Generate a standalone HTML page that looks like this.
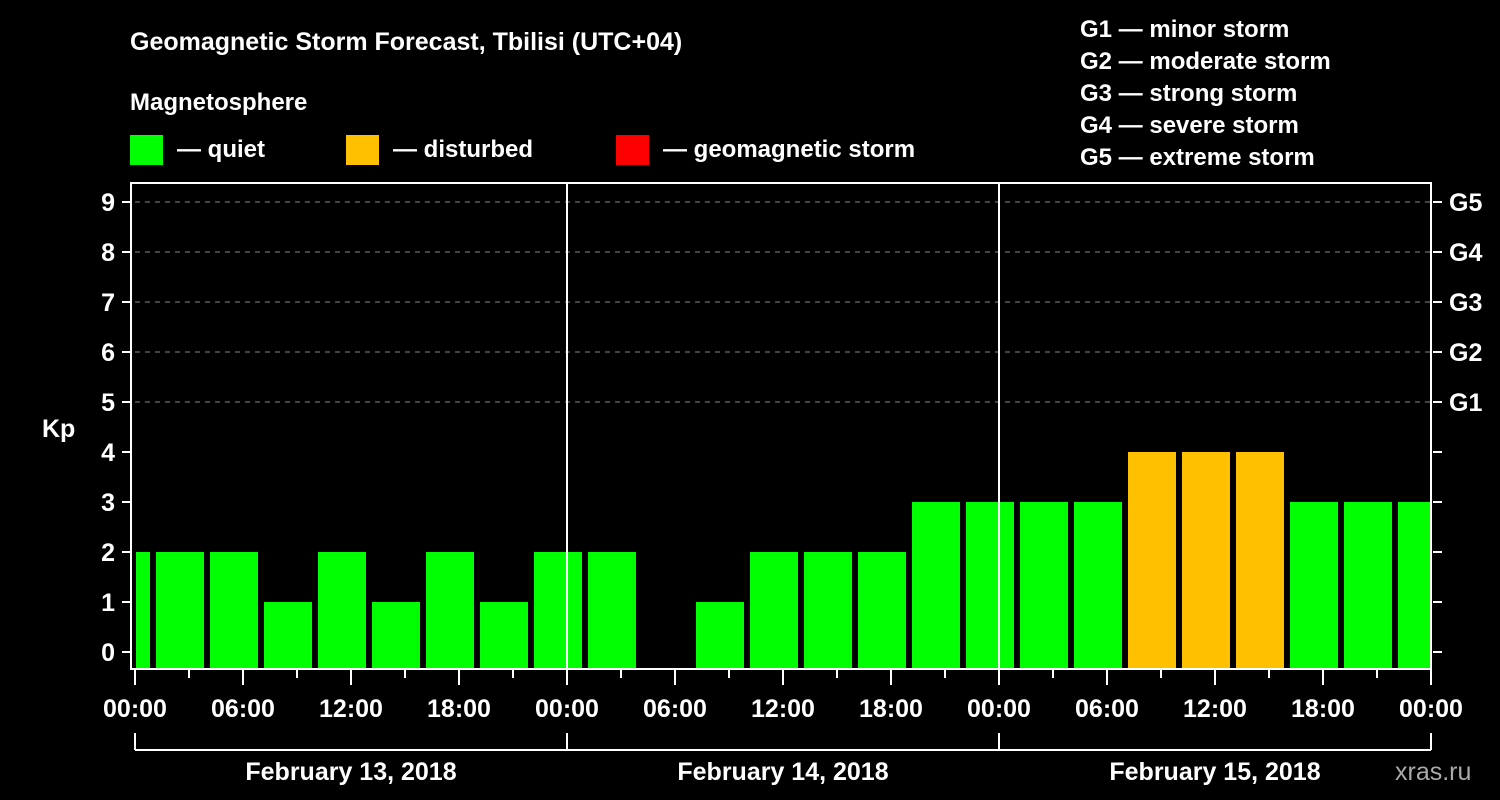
<!DOCTYPE html>
<html><head><meta charset="utf-8"><style>
html,body{margin:0;padding:0;background:#000;}
svg{display:block;font-family:"Liberation Sans",Arial,sans-serif;font-weight:bold;}
</style></head><body>
<svg id="chart" width="1500" height="800" viewBox="0 0 1500 800" xmlns="http://www.w3.org/2000/svg">
<rect width="1500" height="800" fill="#000"/>
<text x="130" y="50" fill="#fff" font-size="25">Geomagnetic Storm Forecast, Tbilisi (UTC+04)</text>
<text x="130" y="110" fill="#fff" font-size="24">Magnetosphere</text>
<g><rect x="130" y="135" width="33" height="30" fill="#00ff00"/><text x="177" y="157" fill="#fff" font-size="24">— quiet</text></g>
<g><rect x="346" y="135" width="33" height="30" fill="#ffc000"/><text x="393" y="157" fill="#fff" font-size="24">— disturbed</text></g>
<g><rect x="616" y="135" width="33" height="30" fill="#ff0000"/><text x="663" y="157" fill="#fff" font-size="24">— geomagnetic storm</text></g>
<g fill="#fff" font-size="24">
<text x="1080" y="37">G1 — minor storm</text>
<text x="1080" y="69">G2 — moderate storm</text>
<text x="1080" y="101">G3 — strong storm</text>
<text x="1080" y="133">G4 — severe storm</text>
<text x="1080" y="165">G5 — extreme storm</text>
</g>
<text x="42" y="437" fill="#fff" font-size="25">Kp</text>
<text x="1395" y="780" fill="#aaa" font-size="25" font-weight="normal">xras.ru</text>
<g id="grid"></g><g id="bars"></g><g id="axes"></g>
</svg>
<script>
const kpValues=[2,2,2,1,2,1,2,1,2,2,0,1,2,2,2,3,3,3,3,4,4,4,3,3,3];
const yTicks=[0,1,2,3,4,5,6,7,8,9];
const gLabels=["G1","G2","G3","G4","G5"];
const gLevels=[5,6,7,8,9];
const timeLabels=["00:00","06:00","12:00","18:00"];
const dayLabels=["February 13, 2018","February 14, 2018","February 15, 2018"];
const NS="http://www.w3.org/2000/svg";
const L=135,R=1431,T=183,B=669;
const xS=h=>L+h*18;
const yS=v=>652-50*v;
function mk(tag,attrs,parent,txt){const e=document.createElementNS(NS,tag);for(const k in attrs)e.setAttribute(k,attrs[k]);if(txt!==undefined)e.textContent=txt;parent.appendChild(e);return e;}
const grid=document.getElementById('grid'),bars=document.getElementById('bars'),axes=document.getElementById('axes');
gLevels.forEach(v=>{const l=mk('line',{x1:L,x2:R,y1:yS(v),y2:yS(v),stroke:'#888','stroke-width':1,'stroke-dasharray':'5,5'},grid);

});
kpValues.forEach((v,k)=>{if(v<=0)return;const c=xS(3*k-0.5);let x0=Math.max(c-24,L+1),x1=Math.min(c+24,R-1);
const r=mk('rect',{x:x0,y:yS(v),width:x1-x0,height:668-yS(v),fill:v>=5?'#ff0000':(v>=4?'#ffc000':'#00ff00')},bars);

});
mk('rect',{x:L-4,y:T,width:R-L+4,height:B-T,fill:'none',stroke:'#fff','stroke-width':2},axes);
[1,2].forEach(d=>{mk('line',{x1:xS(24*d),x2:xS(24*d),y1:T,y2:B,stroke:'#fff','stroke-width':2},axes);});
yTicks.forEach(v=>{mk('line',{x1:122,x2:131,y1:yS(v),y2:yS(v),stroke:'#fff','stroke-width':2},axes);
mk('line',{x1:R+2,x2:R+11,y1:yS(v),y2:yS(v),stroke:'#fff','stroke-width':2},axes);
const t=mk('text',{x:115,y:yS(v)+9,fill:'#fff','font-size':25,'text-anchor':'end'},axes,String(v));

});
gLabels.forEach((g,i)=>{const t=mk('text',{x:1449,y:yS(gLevels[i])+9,fill:'#fff','font-size':25},axes,g);

});
for(let h=0;h<=72;h+=3){const major=h%6===0;mk('line',{x1:xS(h),x2:xS(h),y1:B,y2:major?685:678,stroke:'#fff','stroke-width':2},axes);
if(major){const t=mk('text',{x:xS(h),y:717,fill:'#fff','font-size':25,'text-anchor':'middle'},axes,timeLabels[(h/6)%4]);

}}
mk('line',{x1:L,x2:R,y1:750,y2:750,stroke:'#fff','stroke-width':2},axes);
[0,1,2,3].forEach(d=>mk('line',{x1:xS(24*d),x2:xS(24*d),y1:733,y2:750,stroke:'#fff','stroke-width':2},axes));
dayLabels.forEach((s,i)=>{const t=mk('text',{x:xS(24*i+12),y:780,fill:'#fff','font-size':25,'text-anchor':'middle'},axes,s);

});
</script>
</body></html>
